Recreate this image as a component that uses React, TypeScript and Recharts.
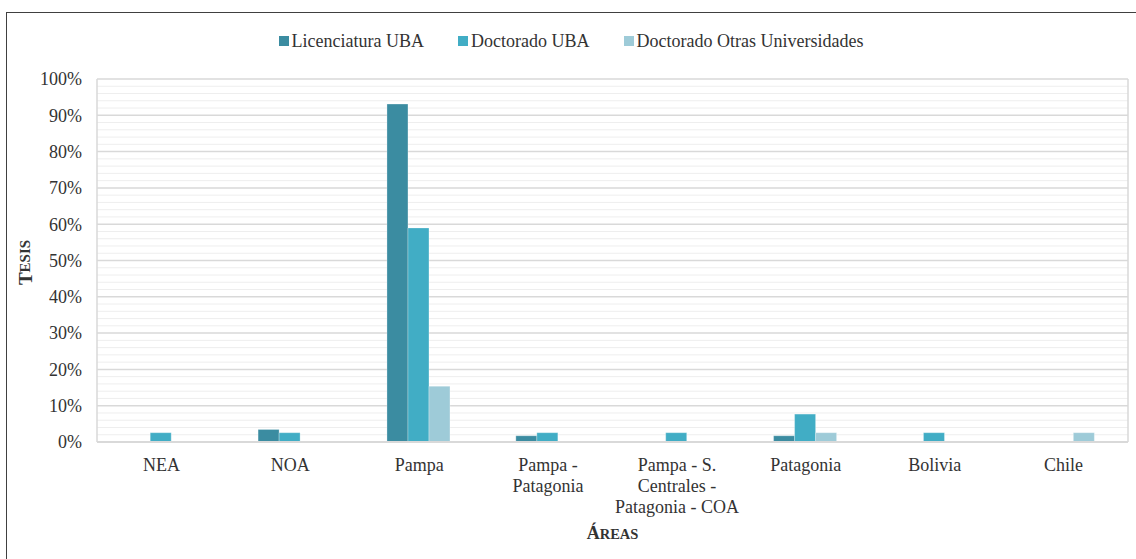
import React from "react";
import {
  BarChart,
  Bar,
  XAxis,
  YAxis,
  CartesianGrid,
  Legend,
} from "recharts";

const categories = [
  "NEA",
  "NOA",
  "Pampa",
  "Pampa - Patagonia",
  "Pampa - S. Centrales - Patagonia - COA",
  "Patagonia",
  "Bolivia",
  "Chile",
];
const tickLines = [
  ["NEA"],
  ["NOA"],
  ["Pampa"],
  ["Pampa -", "Patagonia"],
  ["Pampa - S.", "Centrales -", "Patagonia - COA"],
  ["Patagonia"],
  ["Bolivia"],
  ["Chile"],
];
const licenciaturaUBA = [0, 3.45, 93.1, 1.72, 0, 1.72, 0, 0];
const doctoradoUBA = [2.56, 2.56, 58.97, 2.56, 2.56, 7.69, 2.56, 0];
const doctoradoOtras = [0, 0, 15.38, 0, 0, 2.56, 0, 2.56];
const yTicks = [0, 10, 20, 30, 40, 50, 60, 70, 80, 90, 100];
const minorTicks = [
  2, 4, 6, 8, 12, 14, 16, 18, 22, 24, 26, 28, 32, 34, 36, 38, 42, 44, 46, 48,
  52, 54, 56, 58, 62, 64, 66, 68, 72, 74, 76, 78, 82, 84, 86, 88, 92, 94, 96, 98,
];

const seriesNames = ["Licenciatura UBA", "Doctorado UBA", "Doctorado Otras Universidades"];
const seriesKeys = ["lic", "doc", "otras"];
const seriesColors = ["#3B8CA1", "#41ADC5", "#9ECBD8"];

const data = categories.map((c, i) => ({
  name: c,
  idx: i,
  lic: licenciaturaUBA[i],
  doc: doctoradoUBA[i],
  otras: doctoradoOtras[i],
}));

const FONT = "'Liberation Serif', 'Times New Roman', serif";
const TEXT = "#333333";

const XTick = (props: any) => {
  const { x, y, payload, index } = props;
  const idx = categories.indexOf(payload.value);
  const lines = tickLines[idx >= 0 ? idx : index] || [payload.value];
  return (
    <text
      x={x}
      y={y}
      textAnchor="middle"
      fontFamily={FONT}
      fontSize={18}
      fill={TEXT}
    >
      {lines.map((l: string, i: number) => (
        <tspan key={i} x={x} dy={21}>
          {l}
        </tspan>
      ))}
    </text>
  );
};

const LegendContent = () => (
  <div
    style={{
      display: "flex",
      justifyContent: "center",
      fontFamily: FONT,
      fontSize: 18,
      color: TEXT,
      lineHeight: "20px",
    }}
  >
    {seriesNames.map((n, i) => (
      <div
        key={n}
        style={{
          display: "flex",
          alignItems: "center",
          marginLeft: i === 0 ? 0 : 34,
        }}
      >
        <span
          style={{
            display: "inline-block",
            width: 10,
            height: 10,
            background: seriesColors[i],
            marginRight: 3,
          }}
        />
        <span>{n}</span>
      </div>
    ))}
  </div>
);

const YLabel = (props: any) => {
  const vb = props.viewBox || {};
  const cx = 25;
  const cy = (vb.y || 0) + (vb.height || 0) / 2 + 2;
  return (
    <text
      x={cx}
      y={cy}
      transform={`rotate(-90 ${cx} ${cy})`}
      textAnchor="middle"
      dominantBaseline="central"
      fontFamily={FONT}
      fontWeight="bold"
      fill={TEXT}
    >
      <tspan fontSize={19}>T</tspan>
      <tspan fontSize={15}>ESIS</tspan>
    </text>
  );
};

const XLabel = (props: any) => {
  const vb = props.viewBox || {};
  const cx = (vb.x || 0) + (vb.width || 0) / 2;
  const cy = (vb.y || 0) + 97;
  return (
    <text
      x={cx}
      y={cy}
      textAnchor="middle"
      fontFamily={FONT}
      fontWeight="bold"
      fill={TEXT}
    >
      <tspan fontSize={18}>Á</tspan>
      <tspan fontSize={14.5}>REAS</tspan>
    </text>
  );
};

export default function App() {
  return (
    <div
      style={{
        position: "absolute",
        left: 0,
        top: 0,
        width: 1136,
        height: 559,
        background: "#ffffff",
        overflow: "hidden",
      }}
    >
      <div
        style={{
          position: "absolute",
          left: 6,
          top: 12,
          width: 1140,
          height: 560,
          borderLeft: "1.5px solid #404040",
          borderTop: "1.5px solid #404040",
        }}
      />
      <div style={{ position: "absolute", left: 0, top: 0 }}>
        <BarChart
          width={1136}
          height={559}
          data={data}
          margin={{ top: 79, right: 0, left: 0, bottom: 0 }}
          barCategoryGap="25%"
          barGap={0}
        >
          <CartesianGrid
            vertical={false}
            horizontalValues={minorTicks}
            stroke="#eeeeee"
            strokeWidth={1}
            yAxisId="left"
          />
          <CartesianGrid
            vertical={false}
            stroke="#d9d9d9"
            strokeWidth={1.5}
            yAxisId="left"
          />
          <XAxis
            dataKey="name"
            height={117}
            interval={0}
            tickLine={false}
            axisLine={{ stroke: "#d9d9d9", strokeWidth: 2 }}
            tick={<XTick />}
            label={<XLabel />}
          />
          <YAxis
            yAxisId="left"
            width={97}
            domain={[0, 100]}
            ticks={yTicks}
            tickFormatter={(v: number) => `${v}%`}
            tickLine={false}
            tickSize={0}
            tickMargin={15}
            axisLine={{ stroke: "#d9d9d9", strokeWidth: 1.5 }}
            tick={{ fontFamily: FONT, fontSize: 18, fill: TEXT }}
            label={<YLabel />}
            interval={0}
          />
          <YAxis
            yAxisId="right"
            orientation="right"
            width={8}
            domain={[0, 100]}
            ticks={yTicks}
            tick={false}
            tickLine={false}
            axisLine={{ stroke: "#d9d9d9", strokeWidth: 1.5 }}
          />
          <Legend
            verticalAlign="middle"
            layout="horizontal"
            wrapperStyle={{ top: 31, left: 6, width: 1130 }}
            content={<LegendContent />}
          />
          {seriesKeys.map((k, i) => (
            <Bar
              key={k}
              yAxisId="left"
              dataKey={k}
              name={seriesNames[i]}
              fill={seriesColors[i]}
              stroke="#ffffff"
              strokeOpacity={0.35}
              strokeWidth={0.8}
              isAnimationActive={false}
            />
          ))}
        </BarChart>
      </div>
    </div>
  );
}
